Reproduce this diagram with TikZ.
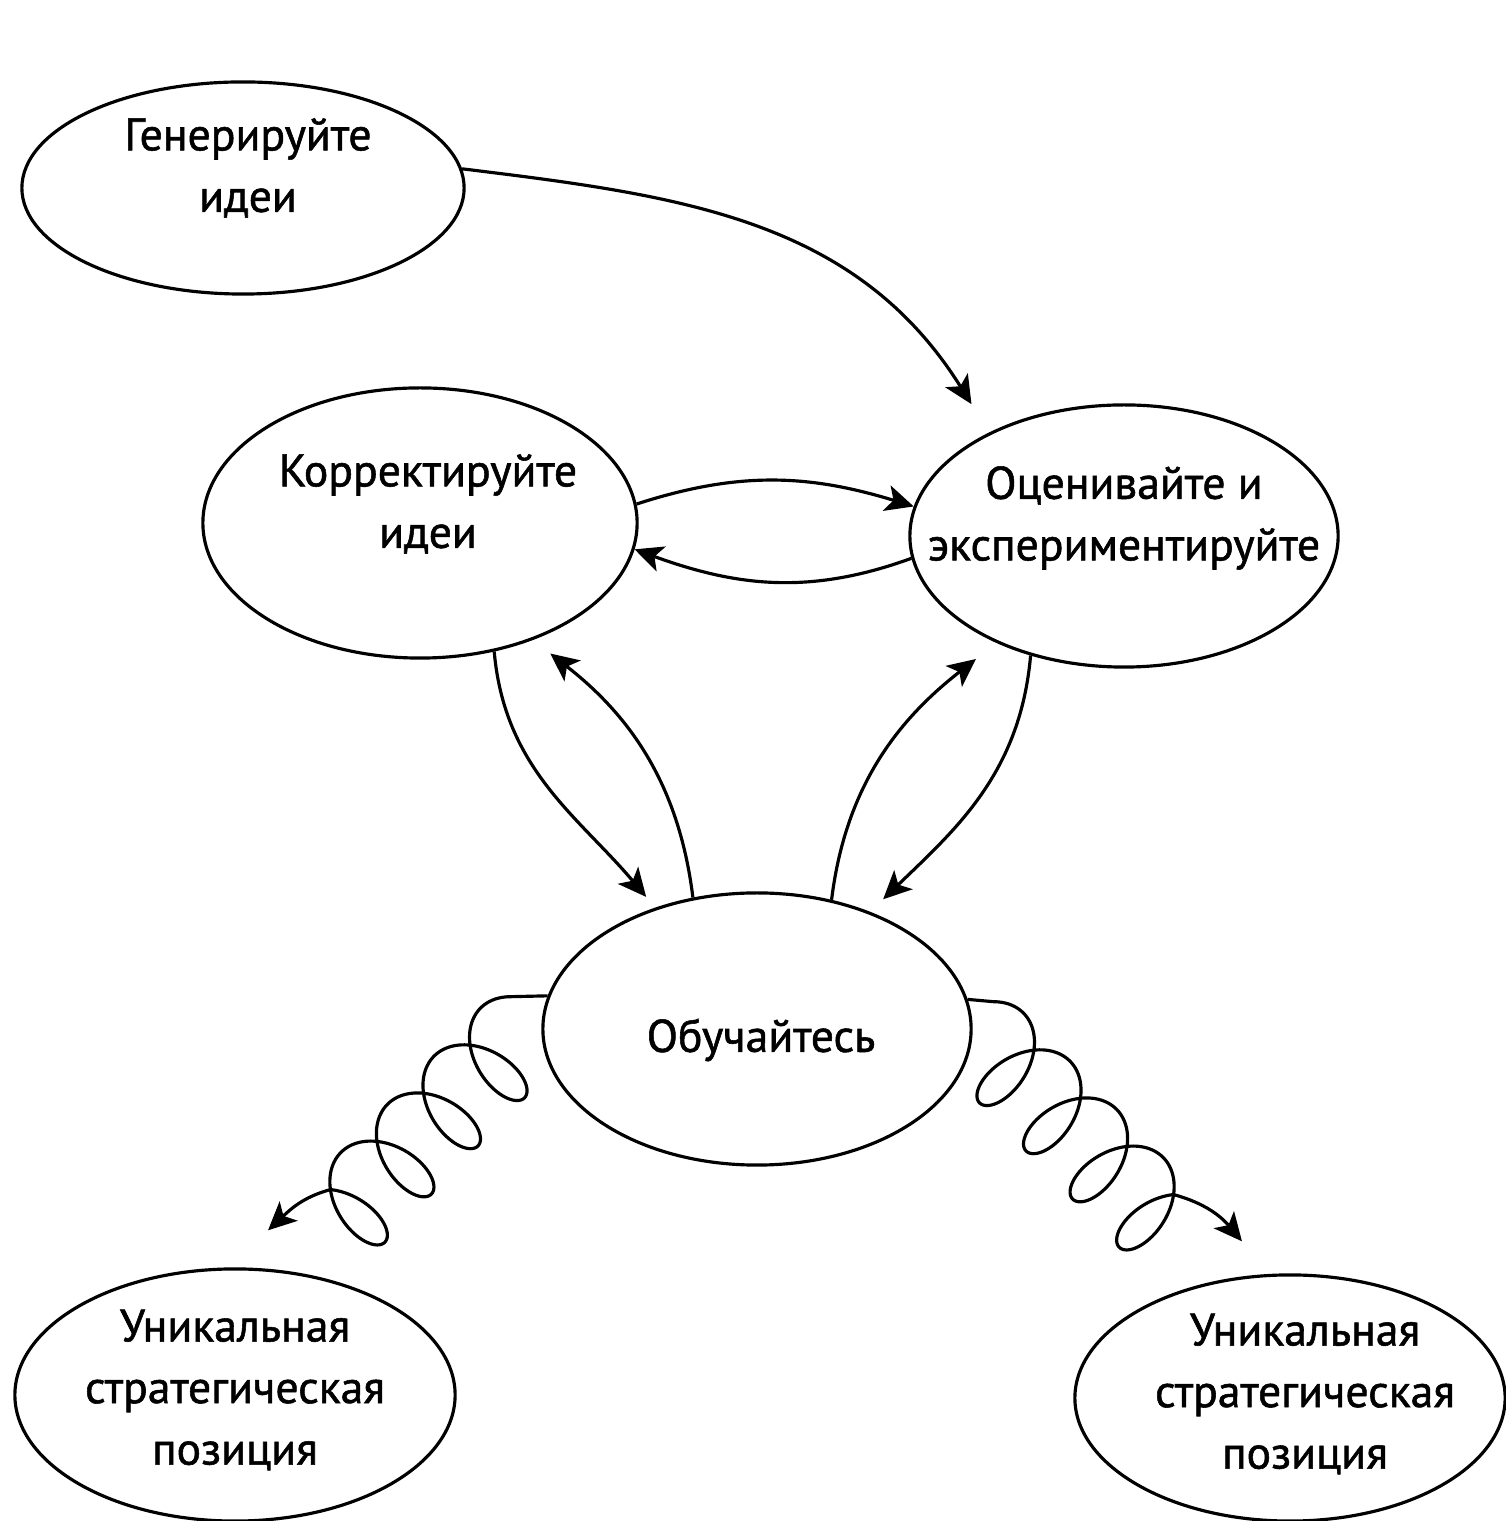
\documentclass[tikz,border=0pt]{standalone}
\usepackage{fontspec}
\setmainfont{PT Sans}[BoldFont=PT Sans,BoldFeatures={FakeBold=1.2}]
\usetikzlibrary{shapes.geometric,arrows.meta}
\tikzset{
  oval/.style={ellipse,draw,line width=0.9pt,inner sep=0pt},
  txt/.style={align=center,font=\fontsize{13}{17.5}\selectfont\bfseries},
  arr/.style={line width=0.9pt,-{Stealth[length=8pt,width=7.5pt,inset=2pt]}}
}
\begin{document}
\begin{tikzpicture}[x=0.01cm,y=0.01cm]
  \useasboundingbox (0,0) rectangle (1505,1521);

  \node[oval,minimum width=4.42cm,minimum height=2.12cm] (gen) at (243,1333) {};
  \node[oval,minimum width=4.34cm,minimum height=2.70cm] (fix) at (420,998) {};
  \node[oval,minimum width=4.28cm,minimum height=2.62cm] (eval) at (1124,985) {};
  \node[oval,minimum width=4.28cm,minimum height=2.72cm] (learn) at (757,492) {};
  \node[oval,minimum width=4.40cm,minimum height=2.52cm] (posL) at (235,126) {};
  \node[oval,minimum width=4.30cm,minimum height=2.46cm] (posR) at (1290,123) {};

  \node[txt] at (248,1353) {Генерируйте\\идеи};
  \node[txt] at (428,1017) {Корректируйте\\идеи};
  \node[txt] at (1124,1003) {Оценивайте и\\экспериментируйте};
  \node[txt] at (761,481) {Обучайтесь};
  \node[txt] at (235,131) {Уникальная\\стратегическая\\позиция};
  \node[txt] at (1305,127) {Уникальная\\стратегическая\\позиция};

  \draw[arr] (gen.5) to[out=-7,in=122] ([yshift=0.38cm]eval.north west);
  \draw[arr] (fix.5) to[out=18,in=163] (eval.172);
  \draw[arr] (eval.186) to[out=200,in=-20] (fix.353);
  \draw[arr,shorten >=0.14cm] (fix.-60) to[out=-85,in=130] (learn.130);
  \draw[arr,shorten >=0.22cm] (learn.116) to[out=97,in=-38] (fix.-46);
  \draw[arr,shorten >=0.26cm] (learn.60) to[out=83,in=218] (eval.220);
  \draw[arr,shorten >=0.18cm] (eval.-128) to[out=-95,in=44] (learn.46);

  \coordinate (tipL) at ([shift={(0.33cm,0.37cm)}]posL.north);
  \coordinate (tipR) at ([shift={(-0.48cm,0.32cm)}]posR.north);
  \draw[arr] (learn.171) -- plot[domain=2.36:27.36,samples=400,smooth,variable=\t]
    ({537.3-7.41*\t+20.85*sin(\t r)+33.79*cos(\t r)},{504-7.66*\t+21.57*sin(\t r)-32.67*cos(\t r)})
    to[out=195,in=43] (tipL);
  \draw[arr] (learn.8) -- plot[domain=2.36:27.36,samples=400,smooth,variable=\t]
    ({966.7+7.41*\t-20.85*sin(\t r)-33.79*cos(\t r)},{499-7.66*\t+21.57*sin(\t r)-32.67*cos(\t r)})
    to[out=-15,in=130] (tipR);
\end{tikzpicture}
\end{document}
